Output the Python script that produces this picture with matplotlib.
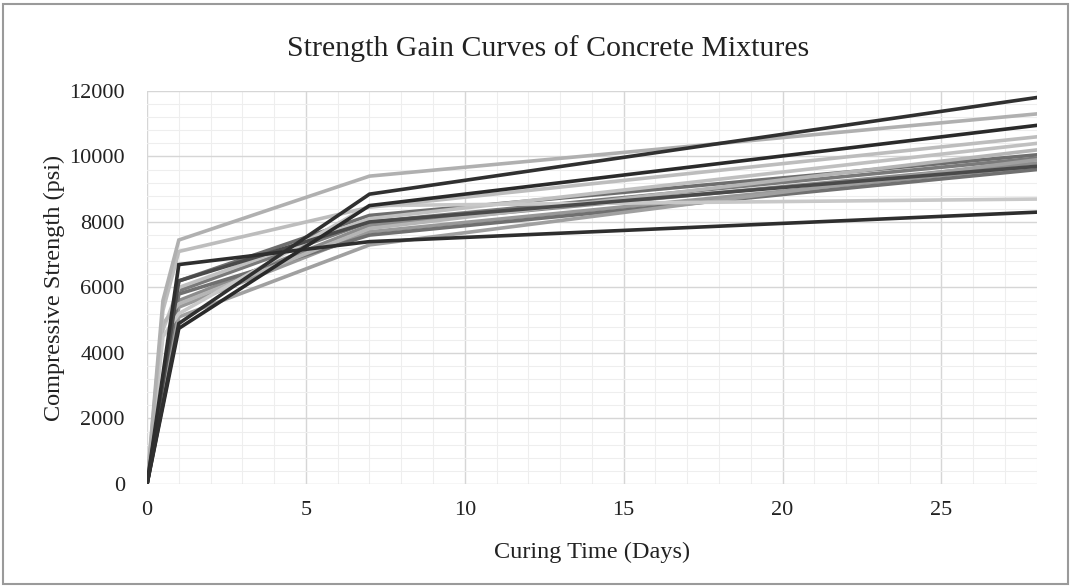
import matplotlib
matplotlib.use("Agg")
import matplotlib.pyplot as plt
from matplotlib.ticker import MultipleLocator
from matplotlib.patches import Rectangle

plt.rcParams['font.family'] = ['Liberation Serif', 'DejaVu Serif']

# Curing ages (days)
days_full = [0, 0.5, 1, 7, 28]
days_std = [0, 1, 7, 28]

# Strength series (psi)
s_dark_a = [0, 4900, 8850, 11800]
s_light_a = [0, 5600, 7450, 9400, 11300]
s_dark_b = [0, 4750, 8500, 10950]
s_light_b = [0, 5300, 7100, 8450, 10600]
s_light_c = [0, 4700, 6000, 8100, 10400]
s_mid_a = [0, 6200, 8200, 10050]
s_mid_b = [0, 5900, 8000, 9950]
s_gray_a = [0, 5600, 7900, 9800]
s_gray_b = [0, 5400, 7700, 9700]
s_mid_c = [0, 5800, 7600, 9600]
s_light_d = [0, 4500, 5200, 8500, 8700]
s_dark_c = [0, 6700, 7400, 8300]
s_dark_d = [0, 6200, 8000, 9700]
s_light_e = [0, 4900, 5500, 7800, 10200]
s_gray_c = [0, 5100, 7300, 9900]

series = [
    (days_std, s_mid_a, '#6e6e6e'),
    (days_std, s_mid_b, '#7a7a7a'),
    (days_std, s_gray_a, '#8c8c8c'),
    (days_std, s_gray_b, '#999999'),
    (days_std, s_mid_c, '#707070'),
    (days_std, s_gray_c, '#a0a0a0'),
    (days_full, s_light_c, '#c0c0c0'),
    (days_full, s_light_e, '#b5b5b5'),
    (days_full, s_light_d, '#c8c8c8'),
    (days_full, s_light_b, '#bdbdbd'),
    (days_full, s_light_a, '#b0b0b0'),
    (days_std, s_dark_d, '#4a4a4a'),
    (days_std, s_dark_c, '#2e2e2e'),
    (days_std, s_dark_b, '#2a2a2a'),
    (days_std, s_dark_a, '#303030'),
]

fig = plt.figure(figsize=(10.71, 5.87), dpi=100)
ax = fig.add_axes([0.1373, 0.1755, 0.8307, 0.6695])

for x, y, c in series:
    ax.plot(x, y, color=c, linewidth=2.6, solid_joinstyle='miter', zorder=3)

ax.set_xlim(0, 28)
ax.set_ylim(0, 12000)
ax.xaxis.set_major_locator(MultipleLocator(5))
ax.xaxis.set_minor_locator(MultipleLocator(1))
ax.yaxis.set_major_locator(MultipleLocator(2000))
ax.yaxis.set_minor_locator(MultipleLocator(400))
ax.grid(which='major', color='#d6d6d6', linewidth=1.0, zorder=0)
ax.grid(which='minor', color='#eeeeee', linewidth=0.8, zorder=0)
ax.set_axisbelow(True)
for s in ax.spines.values():
    s.set_visible(False)
ax.tick_params(which='both', length=0, labelsize=16, colors='#222222')
ax.tick_params(axis='x', pad=12)
ax.tick_params(axis='y', pad=16)

ax.set_xlabel('Curing Time (Days)', fontsize=17.5, color='#222222', labelpad=16)
ax.set_ylabel('Compressive Strength (psi)', fontsize=17.5, color='#222222', labelpad=3)
fig.text(0.512, 0.918, 'Strength Gain Curves of Concrete Mixtures', ha='center', va='center',
         fontsize=21.5, color='#222222')

fig.patches.append(Rectangle((0.003, 0.005), 0.994, 0.988, transform=fig.transFigure,
                             fill=False, edgecolor='#9a9a9a', linewidth=1.5))

fig.savefig('out.png', dpi=100)
